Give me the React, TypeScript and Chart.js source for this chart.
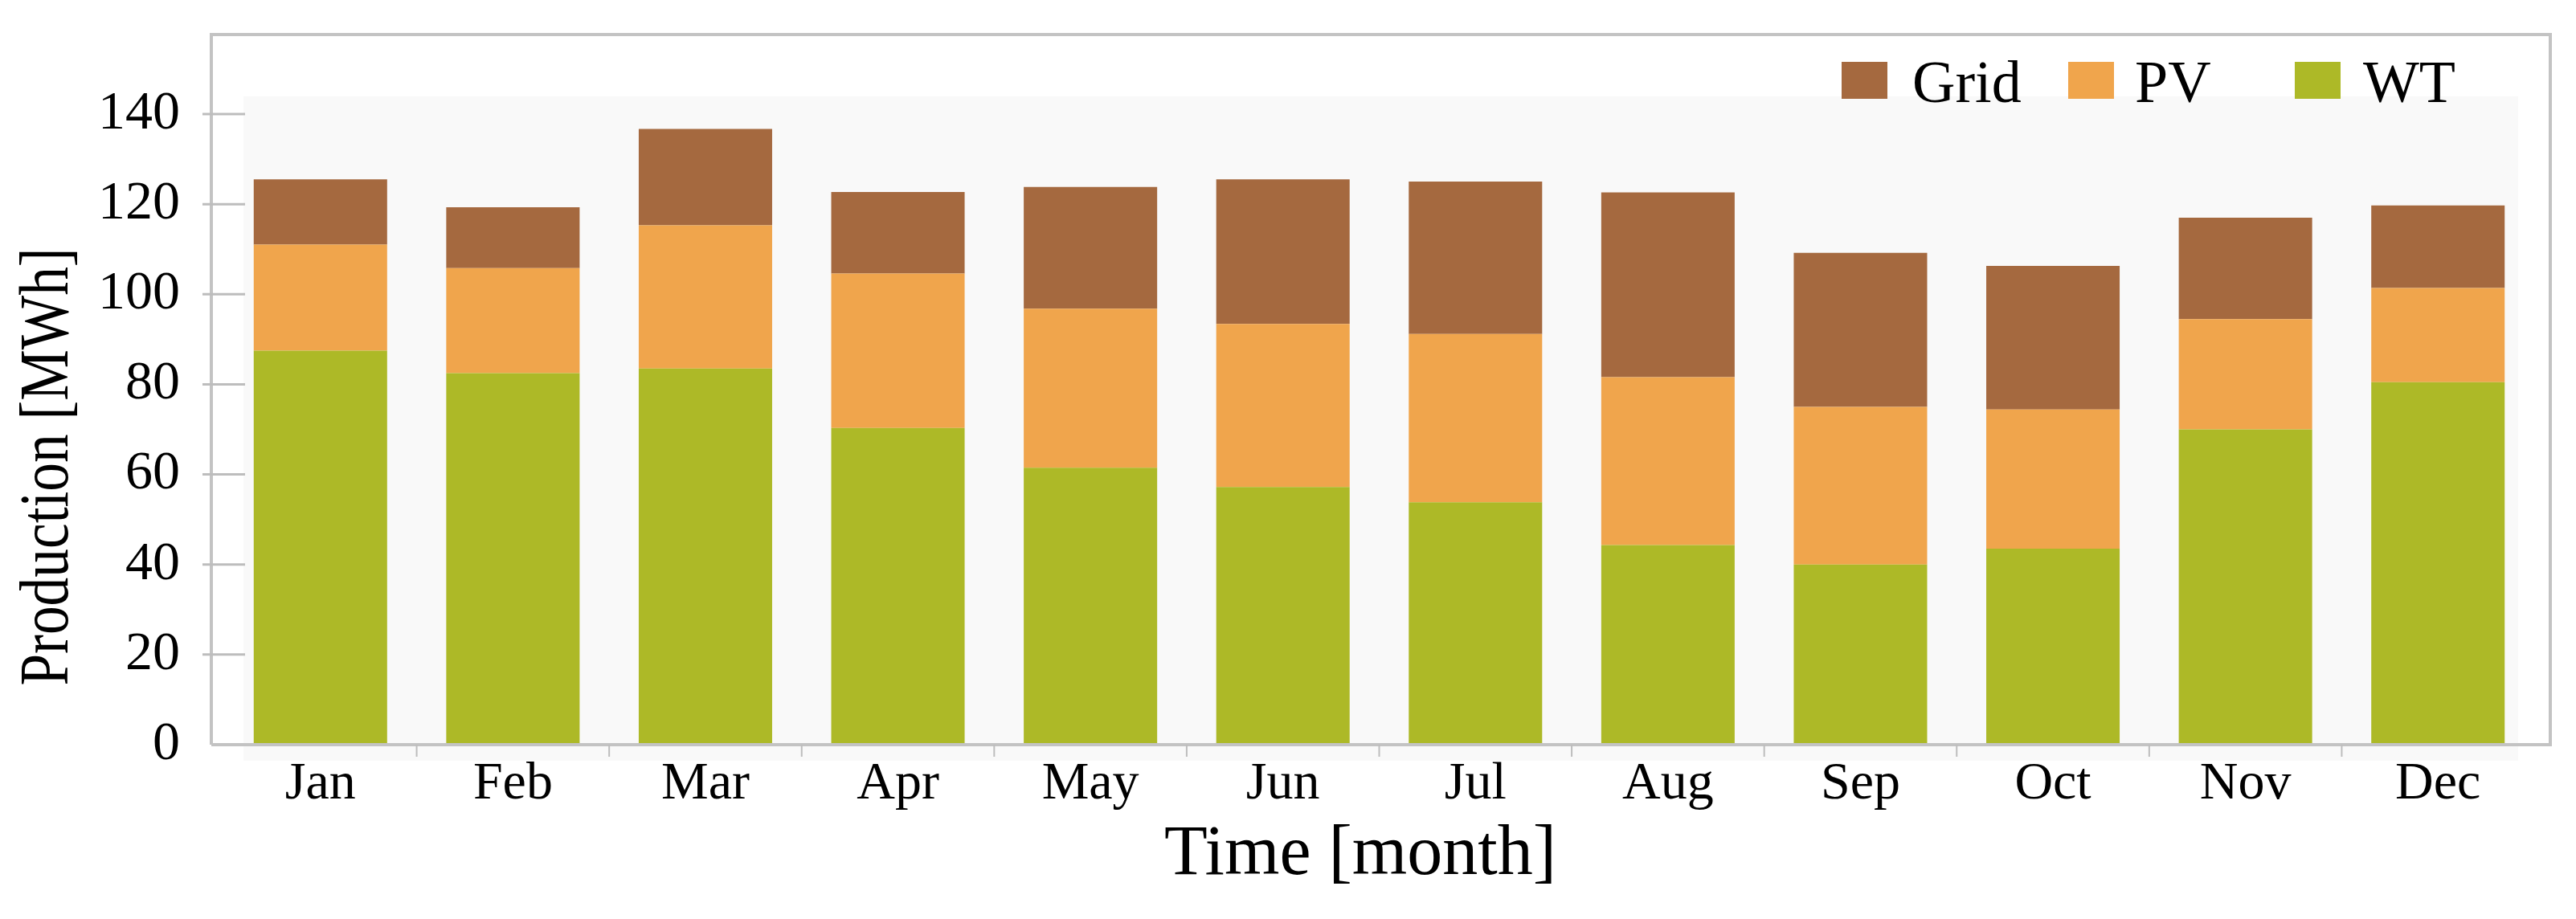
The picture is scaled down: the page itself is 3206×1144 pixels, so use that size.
import React, { useEffect, useRef } from 'react';
import { Chart, registerables } from 'chart.js';

Chart.register(...registerables);

const months = ['Jan', 'Feb', 'Mar', 'Apr', 'May', 'Jun', 'Jul', 'Aug', 'Sep', 'Oct', 'Nov', 'Dec'];
const wtValues = [87.5, 82.5, 83.5, 70.3, 61.5, 57.2, 53.8, 44.3, 40.0, 43.5, 70.0, 80.5];
const pvValues = [23.5, 23.3, 31.8, 34.3, 35.3, 36.2, 37.4, 37.3, 35.0, 30.9, 24.5, 20.9];
const gridValues = [14.5, 13.5, 21.4, 18.1, 27.0, 32.1, 33.8, 41.0, 34.2, 31.9, 22.5, 18.3];
const yTickValues = [0, 20, 40, 60, 80, 100, 120, 140];
const legendOrder = ['Grid', 'PV', 'WT'];
const yTitle = 'Production [MWh]';
const xTitle = 'Time [month]';

const FONT = "'Liberation Serif', 'Times New Roman', serif";
const COLORS: Record<string, string> = { WT: '#adb927', PV: '#f0a54c', Grid: '#a5693f' };

const decorPlugin = {
  id: 'decor',
  beforeDraw(chart: any) {
    const { ctx, chartArea: a } = chart;
    ctx.save();
    ctx.fillStyle = '#ffffff';
    ctx.fillRect(0, 0, chart.width, chart.height);
    ctx.fillStyle = '#f9f9f9';
    const l = a.left + 24, r = a.right - 20, t = a.top - 22, b = a.bottom + 20;
    ctx.fillRect(l, t, r - l, b - t);
    ctx.restore();
  },
  afterDraw(chart: any) {
    const { ctx, chartArea: a, scales } = chart;
    ctx.save();
    const fl = a.left - 16, fr = a.right + 20, ft = a.top - 99, fb = a.bottom;
    // frame
    ctx.strokeStyle = '#c3c3c3';
    ctx.lineWidth = 4;
    ctx.beginPath();
    ctx.moveTo(fl, fb);
    ctx.lineTo(fl, ft);
    ctx.lineTo(fr, ft);
    ctx.lineTo(fr, fb);
    ctx.lineTo(fl, fb);
    ctx.stroke();
    // y tick marks
    ctx.strokeStyle = '#bdbdbd';
    ctx.lineWidth = 3;
    const ys = scales.y;
    ys.ticks.forEach((tk: any) => {
      if (tk.value === 0) return;
      const y = ys.getPixelForValue(tk.value);
      ctx.beginPath();
      ctx.moveTo(a.left - 27, y);
      ctx.lineTo(a.left + 26, y);
      ctx.stroke();
    });
    // x tick marks between categories
    const xs = scales.x;
    ctx.lineWidth = 2;
    for (let i = 0; i < months.length - 1; i++) {
      const x = (xs.getPixelForValue(i) + xs.getPixelForValue(i + 1)) / 2;
      ctx.beginPath();
      ctx.moveTo(x, a.bottom);
      ctx.lineTo(x, a.bottom + 15);
      ctx.stroke();
    }
    ctx.fillStyle = '#000000';
    // y axis title
    ctx.save();
    ctx.translate(61, 581);
    ctx.rotate(-Math.PI / 2);
    ctx.scale(0.83, 1);
    ctx.font = `86px ${FONT}`;
    ctx.textAlign = 'center';
    ctx.textBaseline = 'middle';
    ctx.fillText(yTitle, 0, 0);
    ctx.restore();
    // x axis title
    ctx.font = `88px ${FONT}`;
    ctx.textAlign = 'center';
    ctx.textBaseline = 'middle';
    ctx.fillText(xTitle, 1693, 1065);
    // legend
    const boxX = [2292, 2574, 2856];
    const textX = [2380, 2657, 2941];
    ctx.font = `74px ${FONT}`;
    ctx.textBaseline = 'alphabetic';
    ctx.textAlign = 'left';
    legendOrder.forEach((name, i) => {
      ctx.fillStyle = COLORS[name];
      ctx.fillRect(boxX[i], 77, 57, 46);
      ctx.fillStyle = '#000000';
      ctx.fillText(name, textX[i], 127);
    });
    ctx.restore();
  },
};

export default function App() {
  const ref = useRef<HTMLCanvasElement | null>(null);
  useEffect(() => {
    if (!ref.current) return;
    const chart = new Chart(ref.current, {
      type: 'bar',
      data: {
        labels: months,
        datasets: [
          { label: 'WT', data: wtValues, backgroundColor: COLORS.WT, borderWidth: 0 },
          { label: 'PV', data: pvValues, backgroundColor: COLORS.PV, borderWidth: 0 },
          { label: 'Grid', data: gridValues, backgroundColor: COLORS.Grid, borderWidth: 0 },
        ],
      },
      options: {
        animation: false,
        responsive: false,
        devicePixelRatio: 1,
        layout: { padding: { top: 142, right: 52, left: 0, bottom: 0 } },
        datasets: { bar: { barPercentage: 0.693, categoryPercentage: 1.0 } } as any,
        plugins: { legend: { display: false }, tooltip: { enabled: false } },
        scales: {
          x: {
            stacked: true,
            grid: { display: false, drawTicks: false },
            border: { display: false },
            ticks: { color: '#000', font: { family: FONT, size: 66 }, padding: 10, maxRotation: 0 },
            title: { display: false },
            afterFit(scale: any) { scale.height = 217; },
          },
          y: {
            stacked: true,
            min: 0,
            max: 140,
            grid: { display: false, drawTicks: false },
            border: { display: false },
            ticks: { color: '#000', font: { family: FONT, size: 68 }, padding: 55 },
            afterBuildTicks(scale: any) { scale.ticks = yTickValues.map((v) => ({ value: v })); },
            title: { display: false },
            afterFit(scale: any) { scale.width = 279; },
          },
        },
      },
      plugins: [decorPlugin],
    });
    return () => chart.destroy();
  }, []);
  return (
    <div style={{ position: 'absolute', left: 0, top: 0, width: 3206, height: 1144 }}>
      <canvas ref={ref} width={3206} height={1144} />
    </div>
  );
}
